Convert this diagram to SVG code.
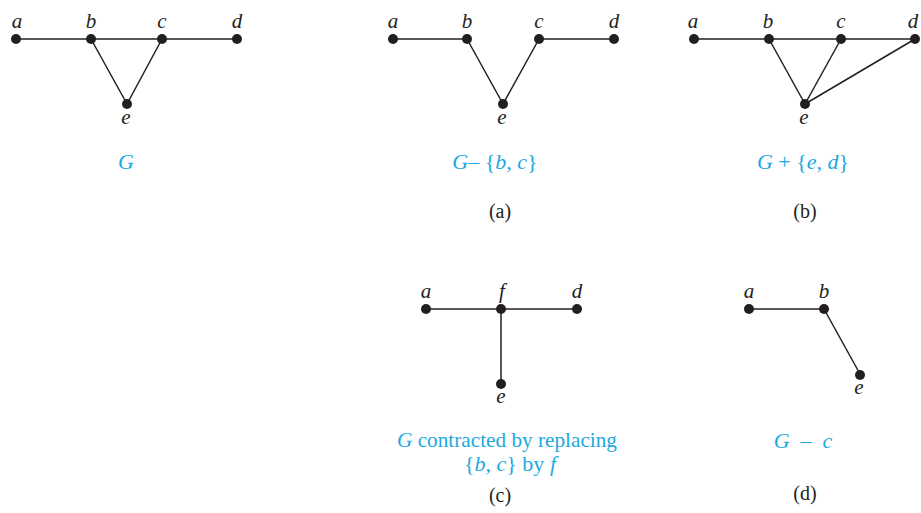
<svg xmlns="http://www.w3.org/2000/svg" width="921" height="513" viewBox="0 0 921 513">
<style>
.e{stroke:#231f20;stroke-width:1.5;fill:none}
.n{fill:#231f20}
.l{font-family:"Liberation Serif",serif;font-style:italic;font-size:21px;fill:#231f20;text-anchor:middle}
.c{font-family:"Liberation Serif",serif;font-size:22px;fill:#1ba9e1;text-anchor:middle}
.c tspan.i{font-style:italic}
.p{font-family:"Liberation Serif",serif;font-size:20px;fill:#231f20;text-anchor:middle}
</style>
<rect width="921" height="513" fill="#fff"/>
<g id="connectors">
<line class="e" x1="16" y1="39" x2="237" y2="39"/>
<line class="e" x1="91" y1="39" x2="127" y2="104"/>
<line class="e" x1="162" y1="39" x2="127" y2="104"/>
<line class="e" x1="393" y1="39" x2="467" y2="39"/>
<line class="e" x1="539" y1="39" x2="614" y2="39"/>
<line class="e" x1="467" y1="39" x2="503" y2="104"/>
<line class="e" x1="539" y1="39" x2="503" y2="104"/>
<line class="e" x1="694" y1="39" x2="915" y2="39"/>
<line class="e" x1="769" y1="39" x2="805" y2="104"/>
<line class="e" x1="841" y1="39" x2="805" y2="104"/>
<line class="e" x1="915" y1="39" x2="805" y2="104"/>
<line class="e" x1="426" y1="309" x2="577" y2="309"/>
<line class="e" x1="501" y1="309" x2="501" y2="384"/>
<line class="e" x1="749" y1="309" x2="824" y2="309"/>
<line class="e" x1="824" y1="309" x2="860" y2="374"/>
</g>
<g id="G">
<circle class="n" cx="16" cy="39" r="5"/><circle class="n" cx="91" cy="39" r="5"/><circle class="n" cx="162" cy="39" r="5"/><circle class="n" cx="237" cy="39" r="5"/><circle class="n" cx="127" cy="104" r="5"/>
<text class="l" x="17" y="28">a</text><text class="l" x="91" y="28">b</text><text class="l" x="162" y="28">c</text><text class="l" x="237" y="28">d</text><text class="l" x="126" y="124">e</text>
<text class="c" x="126" y="169"><tspan class="i">G</tspan></text>
</g>
<g id="graph-a">
<circle class="n" cx="393" cy="39" r="5"/><circle class="n" cx="467" cy="39" r="5"/><circle class="n" cx="539" cy="39" r="5"/><circle class="n" cx="614" cy="39" r="5"/><circle class="n" cx="503" cy="104" r="5"/>
<text class="l" x="393" y="28">a</text><text class="l" x="467" y="28">b</text><text class="l" x="539" y="28">c</text><text class="l" x="614" y="28">d</text><text class="l" x="502" y="124">e</text>
<text class="c" x="495" y="169"><tspan class="i">G</tspan>– {<tspan class="i">b</tspan>, <tspan class="i">c</tspan>}</text>
<text class="p" x="500" y="218">(a)</text>
</g>
<g id="graph-b">
<circle class="n" cx="694" cy="39" r="5"/><circle class="n" cx="769" cy="39" r="5"/><circle class="n" cx="841" cy="39" r="5"/><circle class="n" cx="915" cy="39" r="5"/><circle class="n" cx="805" cy="104" r="5"/>
<text class="l" x="693" y="28">a</text><text class="l" x="768" y="28">b</text><text class="l" x="841" y="28">c</text><text class="l" x="913" y="28">d</text><text class="l" x="804" y="124">e</text>
<text class="c" x="803" y="169"><tspan class="i">G</tspan> + {<tspan class="i">e</tspan>, <tspan class="i">d</tspan>}</text>
<text class="p" x="805" y="218">(b)</text>
</g>
<g id="graph-c">
<circle class="n" cx="426" cy="309" r="5"/><circle class="n" cx="501" cy="309" r="5"/><circle class="n" cx="577" cy="309" r="5"/><circle class="n" cx="501" cy="384" r="5"/>
<text class="l" x="426" y="298">a</text><text class="l" x="502" y="298">f</text><text class="l" x="577" y="298">d</text><text class="l" x="501" y="403">e</text>
<text class="c" x="507" y="447" textLength="220" lengthAdjust="spacingAndGlyphs"><tspan class="i">G</tspan> contracted by replacing</text>
<text class="c" x="510" y="471"><tspan>{</tspan><tspan class="i">b</tspan>, <tspan class="i">c</tspan>} by <tspan class="i">f</tspan></text>
<text class="p" x="500" y="502">(c)</text>
</g>
<g id="graph-d">
<circle class="n" cx="749" cy="309" r="5"/><circle class="n" cx="824" cy="309" r="5"/><circle class="n" cx="860" cy="375" r="5"/>
<text class="l" x="749" y="298">a</text><text class="l" x="824" y="298">b</text><text class="l" x="859" y="394">e</text>
<text class="c" x="803" y="448" xml:space="preserve"><tspan class="i">G</tspan>  –  <tspan class="i">c</tspan></text>
<text class="p" x="805" y="500">(d)</text>
</g>
</svg>
